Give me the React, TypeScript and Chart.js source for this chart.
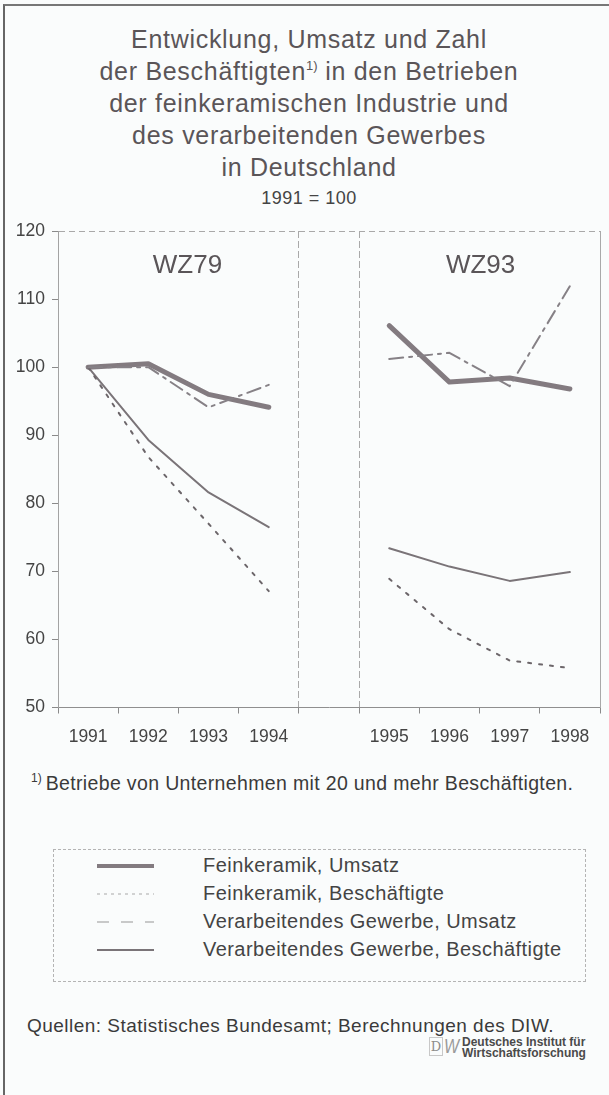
import React, { useEffect, useRef } from "react";
import { Chart, registerables } from "chart.js";

Chart.register(...registerables);

// ---------- data ----------
const years = ["1991", "1992", "1993", "1994", "", "1995", "1996", "1997", "1998"];
const panelLabels = ["WZ79", "WZ93"];
const yMin = 50;
const yMax = 120;
const yStep = 10;

// WZ79 panel (1991–1994), 1991 = 100
const fkUmsatzWZ79 = [100, 100.5, 96.0, 94.1];
const fkBeschWZ79 = [100, 86.8, 77.0, 67.1];
const vgUmsatzWZ79 = [100, 100.0, 94.1, 97.4];
const vgBeschWZ79 = [100, 89.3, 81.6, 76.5];

// WZ93 panel (1995–1998)
const fkUmsatzWZ93 = [106.1, 97.8, 98.4, 96.8];
const fkBeschWZ93 = [68.9, 61.5, 56.9, 55.8];
const vgUmsatzWZ93 = [101.2, 102.1, 97.2, 111.9];
const vgBeschWZ93 = [73.4, 70.7, 68.6, 69.9];

const legendLabels = [
  "Feinkeramik, Umsatz",
  "Feinkeramik, Beschäftigte",
  "Verarbeitendes Gewerbe, Umsatz",
  "Verarbeitendes Gewerbe, Beschäftigte",
];

const titleLines = [
  "Entwicklung, Umsatz und Zahl",
  "der Beschäftigten",
  "der feinkeramischen Industrie und",
  "des verarbeitenden Gewerbes",
  "in Deutschland",
];
const subtitle = "1991 = 100";
const footnote = "Betriebe von Unternehmen mit 20 und mehr Beschäftigten.";
const source = "Quellen: Statistisches Bundesamt; Berechnungen des DIW.";

// ---------- helpers ----------
const join = (a: number[], b: number[]) => [...a, null, ...b];
const FONT = "'Liberation Sans', Arial, Helvetica, sans-serif";

if (typeof document !== "undefined") {
  document.body.style.margin = "0";
  document.body.style.background = "#fafcfc";
}

const styles = {
  fkUmsatz: { color: "#837b80", width: 5, dash: [] as number[] },
  fkBesch: { color: "#6c666a", width: 2, dash: [3, 8] },
  vgUmsatz: { color: "#868186", width: 2, dash: [14, 6, 3, 6] },
  vgBesch: { color: "#7a7478", width: 2, dash: [] as number[] },
};

const panelLabelPlugin = {
  id: "panelLabels",
  afterDatasetsDraw(chart: any) {
    const { ctx, chartArea, scales } = chart;
    const x = scales.x;
    ctx.save();
    ctx.font = `26px ${FONT}`;
    ctx.fillStyle = "#5a5558";
    ctx.textAlign = "center";
    ctx.textBaseline = "alphabetic";
    const c1 = (x.getPixelForValue(1) + x.getPixelForValue(2)) / 2 + 9;
    const c2 = (x.getPixelForValue(6) + x.getPixelForValue(7)) / 2 + 1;
    ctx.fillText(panelLabels[0], c1, chartArea.top + 42);
    ctx.fillText(panelLabels[1], c2, chartArea.top + 42);
    ctx.restore();
  },
};

function LineChart() {
  const ref = useRef<HTMLCanvasElement | null>(null);
  useEffect(() => {
    if (!ref.current) return;
    const gridGray = "#a9a9a9";
    const tickGray = "#8a8a8a";
    const mk = (label: string, data: any[], s: any) => ({
      label,
      data,
      borderColor: s.color,
      backgroundColor: s.color,
      borderWidth: s.width,
      borderDash: s.dash,
      borderCapStyle: "round",
      borderJoinStyle: "round",
      pointRadius: 0,
      tension: 0,
      spanGaps: false,
      fill: false,
    });
    const chart = new Chart(ref.current, {
      type: "line",
      data: {
        labels: years,
        datasets: [
          mk(legendLabels[2], join(vgUmsatzWZ79, vgUmsatzWZ93), styles.vgUmsatz),
          mk(legendLabels[1], join(fkBeschWZ79, fkBeschWZ93), styles.fkBesch),
          mk(legendLabels[3], join(vgBeschWZ79, vgBeschWZ93), styles.vgBesch),
          mk(legendLabels[0], join(fkUmsatzWZ79, fkUmsatzWZ93), styles.fkUmsatz),
        ] as any,
      },
      options: {
        responsive: false,
        animation: false,
        events: [],
        layout: { padding: { top: 31, right: 9, left: 0, bottom: 0 } },
        plugins: {
          legend: { display: false },
          tooltip: { enabled: false },
          title: { display: false },
        },
        scales: {
          x: {
            type: "category",
            offset: true,
            grid: {
              offset: true,
              drawOnChartArea: true,
              color: (c: any) => (c.index === 4 || c.index === 5 ? gridGray : "transparent"),
              lineWidth: 1,
              tickColor: tickGray,
              tickLength: 6,
              tickWidth: 1,
            },
            border: { display: true, color: "#8f8f8f", width: 1, dash: [7, 3] },
            ticks: {
              color: "#444",
              font: { family: FONT, size: 17.5 },
              padding: 13,
              autoSkip: false,
              maxRotation: 0,
            },
            afterFit: (s: any) => {
              s.height = 52.5;
            },
          },
          y: {
            min: yMin,
            max: yMax,
            ticks: {
              stepSize: yStep,
              color: "#444",
              font: { family: FONT, size: 17.5 },
              padding: 7,
            },
            grid: {
              color: (c: any) => (c.tick && c.tick.value === yMax ? gridGray : "transparent"),
              tickColor: tickGray,
              tickLength: 6,
              lineWidth: 1,
            },
            border: { display: true, color: "#a3a3a3", width: 1, dash: [6, 4] },
            afterFit: (s: any) => {
              s.width = 58;
            },
          },
          yRight: {
            type: "linear",
            position: "right",
            display: true,
            ticks: { display: false },
            grid: { display: true, drawTicks: false, color: "transparent" },
            border: { display: true, color: gridGray, width: 1, dash: [6, 4] },
            afterFit: (s: any) => {
              s.width = 0;
            },
          },
        },
      } as any,
      plugins: [panelLabelPlugin],
    });
    return () => chart.destroy();
  }, []);
  return (
    <canvas
      ref={ref}
      width={609}
      height={560}
      style={{ position: "absolute", left: 0, top: 200, width: 609, height: 560 }}
    />
  );
}

function LegendSwatch({ s, faint }: { s: any; faint?: string }) {
  return (
    <svg width={60} height={8} style={{ display: "block" }}>
      <line
        x1={1}
        y1={4}
        x2={58}
        y2={4}
        stroke={faint || s.color}
        strokeWidth={s.width === 5 ? 4 : s.width}
        strokeDasharray={s.dash.length ? s.dash.join(" ") : undefined}
        strokeLinecap="butt"
      />
    </svg>
  );
}

export default function App() {
  const text: React.CSSProperties = { fontFamily: FONT, position: "absolute", whiteSpace: "nowrap" };
  const legendStyles = [
    { s: styles.fkUmsatz },
    { s: { ...styles.fkBesch, dash: [3, 4], width: 1.5 }, faint: "#c4c4c4" },
    { s: { ...styles.vgUmsatz, dash: [12, 12], width: 1.5 }, faint: "#b8b8b8" },
    { s: styles.vgBesch },
  ];
  const rowBaselines = [873, 901, 929, 957];
  const titleLine: React.CSSProperties = { height: 32, lineHeight: "32px" };
  return (
    <div
      style={{
        position: "relative",
        width: 609,
        height: 1095,
        overflow: "hidden",
        background: "#fafcfc",
        fontFamily: FONT,
      }}
    >
      {/* frame */}
      <div
        style={{
          position: "absolute",
          left: 3,
          top: 4,
          width: 640,
          height: 1200,
          borderLeft: "2px solid #666",
          borderTop: "2px solid #777",
        }}
      />

      {/* title */}
      <div
        style={{
          ...text,
          left: 0,
          top: 23,
          width: 618,
          textAlign: "center",
          fontSize: 25,
          lineHeight: "32px",
          letterSpacing: "0.7px",
          color: "#5a5558",
        }}
      >
        <div style={titleLine}>{titleLines[0]}</div>
        <div style={titleLine}>
          {titleLines[1]}
          <span style={{ fontSize: 13, lineHeight: "10px", verticalAlign: 10, letterSpacing: 0 }}>1)</span> in den
          Betrieben
        </div>
        <div style={titleLine}>{titleLines[2]}</div>
        <div style={titleLine}>{titleLines[3]}</div>
        <div style={titleLine}>{titleLines[4]}</div>
      </div>
      <div
        style={{
          ...text,
          left: 0,
          top: 187,
          width: 618,
          textAlign: "center",
          fontSize: 18,
          lineHeight: "22px",
          letterSpacing: "0.5px",
          color: "#444",
        }}
      >
        {subtitle}
      </div>

      <LineChart />

      {/* footnote */}
      <div style={{ ...text, left: 31, top: 772, fontSize: 19.5, lineHeight: "22px", letterSpacing: "0.35px", color: "#3a3a3a" }}>
        <span style={{ fontSize: 12, lineHeight: "10px", verticalAlign: 8, marginRight: 4, letterSpacing: 0 }}>1)</span>
        {footnote}
      </div>

      {/* legend */}
      <div
        style={{
          position: "absolute",
          left: 53,
          top: 849,
          width: 531,
          height: 131,
          border: "1px dashed #b4b4b4",
        }}
      />
      {legendLabels.map((lab, i) => (
        <React.Fragment key={lab}>
          <div style={{ position: "absolute", left: 96, top: rowBaselines[i] - 11 }}>
            <LegendSwatch s={legendStyles[i].s} faint={legendStyles[i].faint} />
          </div>
          <div
            style={{
              ...text,
              left: 203,
              top: rowBaselines[i] - 18.6,
              fontSize: 20,
              lineHeight: "22px",
              letterSpacing: "0.45px",
              color: "#444",
            }}
          >
            {lab}
          </div>
        </React.Fragment>
      ))}

      {/* source */}
      <div style={{ ...text, left: 27, top: 1014.5, fontSize: 19, lineHeight: "22px", letterSpacing: "0.48px", color: "#3a3a3a" }}>
        {source}
      </div>

      {/* DIW logo */}
      <div
        style={{
          ...text,
          left: 429,
          top: 1037,
          width: 14,
          height: 19,
          border: "1px solid #c8c8c8",
          boxSizing: "border-box",
          fontFamily: "'DejaVu Serif', serif",
          fontSize: 13,
          lineHeight: "17px",
          textAlign: "center",
          color: "#8c8c8c",
        }}
      >
        D
      </div>
      <div
        style={{
          ...text,
          left: 444,
          top: 1035,
          fontSize: 20,
          lineHeight: "22px",
          fontStyle: "italic",
          fontWeight: 100,
          color: "#9a9a9a",
          transform: "scaleX(0.8)",
          transformOrigin: "left top",
        }}
      >
        W
      </div>
      <div
        style={{
          ...text,
          left: 462,
          top: 1037,
          fontSize: 12,
          lineHeight: "11px",
          fontWeight: "bold",
          color: "#4a4a4a",
        }}
      >
        <div>Deutsches Institut für</div>
        <div>Wirtschaftsforschung</div>
      </div>
    </div>
  );
}
